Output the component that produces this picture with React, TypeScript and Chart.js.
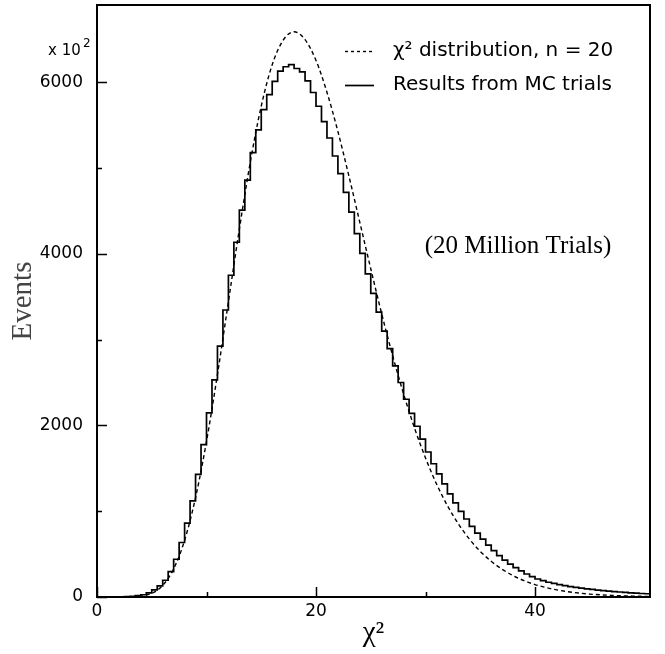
import { useEffect, useRef } from "react";
import { Chart, registerables } from "chart.js";

Chart.register(...registerables);

// Histogram of MC trials: bin width 0.5, bins starting at 0 (values in units of 10^2 events)
const binWidth = 0.5;
const mcCounts = [
  0, 0, 0, 1, 2, 4, 8, 15, 26, 48,
  82, 130, 195, 295, 440, 635, 860, 1120, 1430, 1775,
  2145, 2530, 2925, 3345, 3750, 4135, 4510, 4860, 5180, 5445,
  5680, 5855, 6010, 6130, 6180, 6205, 6160, 6120, 6015, 5880,
  5720, 5540, 5350, 5140, 4935, 4715, 4485, 4235, 4005, 3765,
  3540, 3320, 3100, 2895, 2695, 2500, 2305, 2140, 1990, 1840,
  1690, 1553, 1436, 1319, 1202, 1096, 999, 909, 822, 745,
  675, 605, 540, 482, 430, 384, 343, 305, 268, 237,
  210, 190, 172, 158, 145, 133, 122, 112, 103, 95,
  88, 81, 75, 69, 63, 58, 53, 49, 45, 41,
  38,
];

// Dashed chi-square curve (n = 20)
const chi2X = [
  0, 1, 2, 3, 4, 5, 6, 7, 8, 9, 10, 11, 12, 13, 14, 15, 16, 17, 18, 19, 20,
  21, 22, 23, 24, 25, 26, 27, 28, 29, 30, 31, 32, 33, 34, 35, 36, 37, 38, 39, 40,
  41, 42, 43, 44, 45, 46, 47, 48, 49, 50, 50.5,
];
const chi2Values = [
  0, 0, 0.05, 1.2, 9.6, 43, 135, 328, 661, 1159, 1814, 2594, 3442, 4288, 5069, 5722, 6204, 6490, 6588, 6497, 6254,
  5883, 5425, 4909, 4367, 3826, 3300, 2812, 2366, 1968, 1620, 1319, 1065, 852, 676, 532, 416, 323, 249, 191, 145,
  110, 83, 62, 46, 34, 25, 19, 14, 10, 7, 6,
];

const xTickValues = [0, 10, 20, 30, 40];
const xLabelValues = [0, 20, 40];
const yTickValues = [0, 1000, 2000, 3000, 4000, 5000, 6000];
const yLabelValues = [0, 2000, 4000, 6000];

const seriesLabels = ["χ² distribution, n = 20", "Results from MC trials"];
const annotationText = "(20 Million Trials)";

const decorPlugin = {
  id: "decor",
  afterDraw(chart: any) {
    const { ctx, chartArea } = chart;
    const { left, right, top, bottom } = chartArea;
    const xs = chart.scales.x;
    const ys = chart.scales.y;
    ctx.save();
    ctx.strokeStyle = "#000";
    ctx.fillStyle = "#000";
    // frame
    ctx.lineWidth = 2;
    ctx.setLineDash([]);
    ctx.strokeRect(left, top, right - left, bottom - top);
    // inward ticks
    ctx.lineWidth = 1.5;
    ctx.beginPath();
    xTickValues.forEach((v) => {
      const px = Math.round(xs.getPixelForValue(v)) + 0.5;
      const len = xLabelValues.includes(v) ? 10 : 5;
      ctx.moveTo(px, bottom);
      ctx.lineTo(px, bottom - len);
    });
    yTickValues.forEach((v) => {
      const py = Math.round(ys.getPixelForValue(v)) + 0.5;
      const len = yLabelValues.includes(v) ? 10 : 5;
      ctx.moveTo(left, py);
      ctx.lineTo(left + len, py);
    });
    ctx.stroke();

    // "x 10^2" multiplier
    ctx.textBaseline = "alphabetic";
    ctx.textAlign = "left";
    ctx.font = "15px 'DejaVu Sans'";
    ctx.fillText("x 10", 48, 55);
    ctx.font = "12px 'DejaVu Sans'";
    ctx.fillText("2", 83, 47);

    // legend
    const ds = chart.data.datasets;
    const rows = [51, 85];
    ds.forEach((d: any, i: number) => {
      const y = rows[i];
      ctx.lineWidth = d.borderWidth;
      ctx.setLineDash(d.borderDash ? [3, 3] : []);
      ctx.beginPath();
      ctx.moveTo(345, y + 0.5);
      ctx.lineTo(374, y + 0.5);
      ctx.stroke();
      ctx.setLineDash([]);
      ctx.font = "20px 'DejaVu Sans'";
      ctx.textBaseline = "middle";
      ctx.fillText(d.label, 393, y);
    });

    // annotation
    ctx.font = "25px 'Liberation Serif'";
    ctx.textAlign = "center";
    ctx.textBaseline = "middle";
    ctx.fillText(annotationText, 518, 246);
    ctx.restore();
  },
};

export default function App() {
  const canvasRef = useRef<HTMLCanvasElement | null>(null);

  useEffect(() => {
    if (!canvasRef.current) return;
    const histData = mcCounts.map((v, i) => ({ x: i * binWidth, y: v }));
    histData.push({ x: mcCounts.length * binWidth, y: mcCounts[mcCounts.length - 1] });
    const curveData = chi2X.map((x, i) => ({ x, y: chi2Values[i] }));
    const tickFont = { family: "'DejaVu Sans'", size: 17 };

    const chart = new Chart(canvasRef.current, {
      type: "line",
      data: {
        datasets: [
          {
            label: seriesLabels[0],
            data: curveData,
            borderColor: "#000",
            borderWidth: 1.4,
            borderDash: [4, 3],
            pointRadius: 0,
            cubicInterpolationMode: "monotone",
            fill: false,
          },
          {
            label: seriesLabels[1],
            data: histData,
            borderColor: "#000",
            borderWidth: 1.7,
            stepped: true,
            pointRadius: 0,
            fill: false,
          },
        ],
      },
      options: {
        responsive: false,
        animation: false,
        devicePixelRatio: 1,
        layout: { padding: { top: 5, right: 15, left: 0, bottom: 0 } },
        plugins: { legend: { display: false }, tooltip: { enabled: false } },
        scales: {
          x: {
            type: "linear",
            min: 0,
            max: 50.5,
            afterFit: (s: any) => {
              s.height = 57;
              s.paddingLeft = 0;
              s.paddingRight = 0;
            },
            afterBuildTicks: (s: any) => {
              s.ticks = xTickValues.map((v) => ({ value: v }));
            },
            grid: { display: false, drawTicks: false },
            border: { display: false },
            ticks: {
              autoSkip: false,
              maxRotation: 0,
              padding: 4,
              color: "#000",
              font: tickFont,
              callback: (v: any) => (xLabelValues.includes(Number(v)) ? String(v) : ""),
            },
            title: {
              display: true,
              text: "χ²",
              color: "#000",
              font: { family: "'Liberation Serif'", size: 29 },
              padding: { top: 0, bottom: 3 },
            },
          },
          y: {
            type: "linear",
            min: 0,
            max: 6900,
            afterFit: (s: any) => {
              s.width = 97;
              s.paddingTop = 0;
              s.paddingBottom = 0;
            },
            afterBuildTicks: (s: any) => {
              s.ticks = yTickValues.map((v) => ({ value: v }));
            },
            grid: { display: false, drawTicks: false },
            border: { display: false },
            ticks: {
              autoSkip: false,
              padding: 14,
              color: "#000",
              font: tickFont,
              callback: (v: any) => (yLabelValues.includes(Number(v)) ? String(v) : ""),
            },
            title: {
              display: true,
              text: "Events",
              color: "#444",
              font: { family: "'Liberation Serif'", size: 29 },
              padding: { top: 6, bottom: 0 },
            },
          },
        },
      },
      plugins: [decorPlugin],
    } as any);
    return () => chart.destroy();
  }, []);

  return (
    <div style={{ position: "fixed", left: 0, top: 0, width: 665, height: 654, background: "#fff" }}>
      <canvas ref={canvasRef} width={665} height={654} style={{ display: "block" }} />
    </div>
  );
}
